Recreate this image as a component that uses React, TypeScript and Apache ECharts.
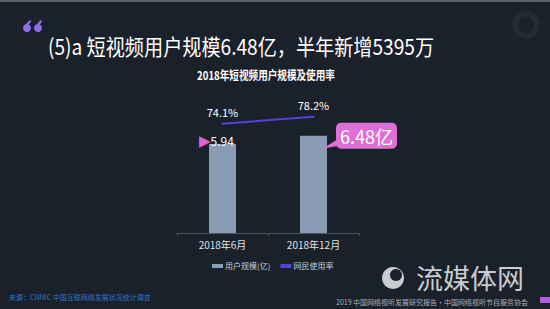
import React, { useEffect, useRef } from "react";
import * as echarts from "echarts";

const categories = ["2018年6月", "2018年12月"];
const userScale = [5.94, 6.48];
const usageRate = [74.1, 78.2];
const seriesNames = ["用户规模(亿)", "网民使用率"];
const titleText = "(5)a 短视频用户规模6.48亿，半年新增5395万";
const subTitleText = "2018年短视频用户规模及使用率";
const sourceText = "来源：CNNIC 中国互联网络发展状况统计调查";
const footerText = "2019 中国网络视听发展研究报告·中国网络视听节目服务协会";
const brandText = "流媒体网";

const FONT = "'Noto Sans CJK SC', 'Noto Sans', sans-serif";
const LINE_COLOR = "#5a40d8";

function quoteMark(x0: number, fill: any) {
  return [
    { type: "circle", shape: { cx: x0 + 4, cy: 28, r: 4 }, style: { fill } },
    {
      type: "polygon",
      shape: { points: [[x0, 28], [x0 + 6, 20.5], [x0 + 8.5, 20.5], [x0 + 5, 26]] },
      style: { fill },
    },
  ];
}

export default function App() {
  const ref = useRef<HTMLDivElement>(null);
  useEffect(() => {
    document.body.style.margin = "0";
    const chart = echarts.init(ref.current!, null, { renderer: "svg" });
    const qFill = new echarts.graphic.LinearGradient(0, 0, 1, 1, [
      { offset: 0, color: "#b85fe0" },
      { offset: 1, color: "#6c78ee" },
    ]);
    const option: any = {
      animation: false,
      backgroundColor: "#1b212b",
      textStyle: { fontFamily: FONT },
      grid: { left: 177, width: 182, top: 83, height: 150 },
      legend: {
        left: 212,
        top: 262,
        padding: 0,
        itemWidth: 11,
        itemHeight: 4,
        itemGap: 10,
        textStyle: { color: "#c8cdd4", fontSize: 8, fontFamily: FONT, padding: [0, 0, 0, -3] },
        data: [
          { name: seriesNames[0], icon: "rect", itemStyle: { color: "#8a9cb3" } },
          { name: seriesNames[1], icon: "rect", itemStyle: { color: LINE_COLOR, opacity: 1 } },
        ],
      },
      xAxis: {
        type: "category",
        data: categories,
        axisLine: { lineStyle: { color: "#4c545f", width: 1 } },
        axisTick: { show: true, length: 3, lineStyle: { color: "#4c545f" } },
        axisLabel: { color: "#dfe3e8", fontSize: 10, margin: 6, fontFamily: FONT },
      },
      yAxis: [
        { type: "value", min: 0, max: 10, show: false },
        { type: "value", min: 10, max: 98, show: false },
      ],
      series: [
        {
          name: seriesNames[0],
          type: "bar",
          data: [
            {
              value: userScale[0],
              label: {
                show: true,
                position: [-10, -3],
                align: "left",
                verticalAlign: "middle",
                formatter: "{t|▶}{v|{c}}",
                rich: {
                  t: { color: "#e062d2", fontSize: 15, fontFamily: "DejaVu Sans" },
                  v: { color: "#ffffff", fontSize: 12, fontFamily: FONT },
                },
              },
            },
            {
              value: userScale[1],
              label: {
                show: true,
                position: [36, -13],
                align: "left",
                verticalAlign: "top",
                formatter: "{c}亿",
                color: "#ffffff",
                fontSize: 18,
                fontFamily: FONT,
                backgroundColor: "#de6fd6",
                borderRadius: 5,
                padding: [3, 4, 2, 4],
                lineHeight: 21,
              },
            },
          ],
          barWidth: 27,
          itemStyle: { color: "#8a9cb3" },
        },
        {
          name: seriesNames[1],
          type: "line",
          yAxisIndex: 1,
          data: usageRate,
          showSymbol: true,
          symbol: "circle",
          symbolSize: 2,
          lineStyle: { color: LINE_COLOR, width: 2 },
          itemStyle: { color: LINE_COLOR },
          label: {
            show: true,
            position: "top",
            distance: 5,
            color: "#ffffff",
            fontSize: 11,
            fontFamily: FONT,
            formatter: "{c}%",
          },
        },
      ],
      graphic: [
        { type: "rect", shape: { x: 0, y: 0, width: 550, height: 2 }, style: { fill: "#5a616b" }, silent: true },
        { type: "ring", shape: { cx: 526, cy: 25, r: 14, r0: 8 }, style: { fill: "#242b35" }, silent: true },
        ...quoteMark(23, qFill),
        ...quoteMark(34, qFill),
        {
          type: "text",
          x: 48,
          y: 45,
          scaleX: 0.87,
          style: {
            text: titleText,
            fontSize: 22,
            fill: "#ffffff",
            fontFamily: FONT,
            verticalAlign: "middle",
          },
        },
        {
          type: "text",
          x: 266,
          y: 74,
          scaleX: 0.8,
          style: {
            text: subTitleText,
            fontSize: 12,
            fontWeight: "bold",
            fill: "#ffffff",
            fontFamily: FONT,
            align: "center",
            verticalAlign: "middle",
          },
        },
        {
          type: "text",
          left: 9,
          top: 293,
          style: { text: sourceText, fontSize: 7, fill: "#2f72c8", fontFamily: FONT },
        },
        {
          type: "text",
          x: 336,
          y: 301.5,
          style: { text: footerText, fontSize: 7, fill: "#aab0b8", fontFamily: FONT, verticalAlign: "middle" },
        },
        { type: "rect", shape: { x: 540, y: 297, width: 10, height: 6 }, style: { fill: "#b45ee0" } },
        { type: "circle", shape: { cx: 393, cy: 278, r: 11 }, style: { fill: "#c9ccd0" } },
        { type: "circle", shape: { cx: 396, cy: 275, r: 6 }, style: { fill: "#1b212b" } },
        {
          type: "text",
          x: 416,
          y: 277,
          style: {
            text: brandText,
            fontSize: 27,
            lineHeight: 27,
            fill: "#c9ccd0",
            fontFamily: FONT,
            verticalAlign: "middle",
          },
        },
      ],
    };
    chart.setOption(option);
    const top = chart.convertToPixel({ xAxisIndex: 0, yAxisIndex: 0 }, [1, userScale[1]]) as number[];
    if (top) {
      chart.setOption({
        graphic: [
          {
            type: "polygon",
            id: "tail",
            shape: {
              points: [
                [top[0] + 25, top[1] + 3],
                [top[0] + 25, top[1] + 10],
                [top[0] + 9, top[1] + 13],
              ],
            },
            style: { fill: "#de6fd6" },
            z: 10,
          },
        ],
      });
    }
    return () => chart.dispose();
  }, []);
  return <div ref={ref} style={{ width: 550, height: 309 }} />;
}
